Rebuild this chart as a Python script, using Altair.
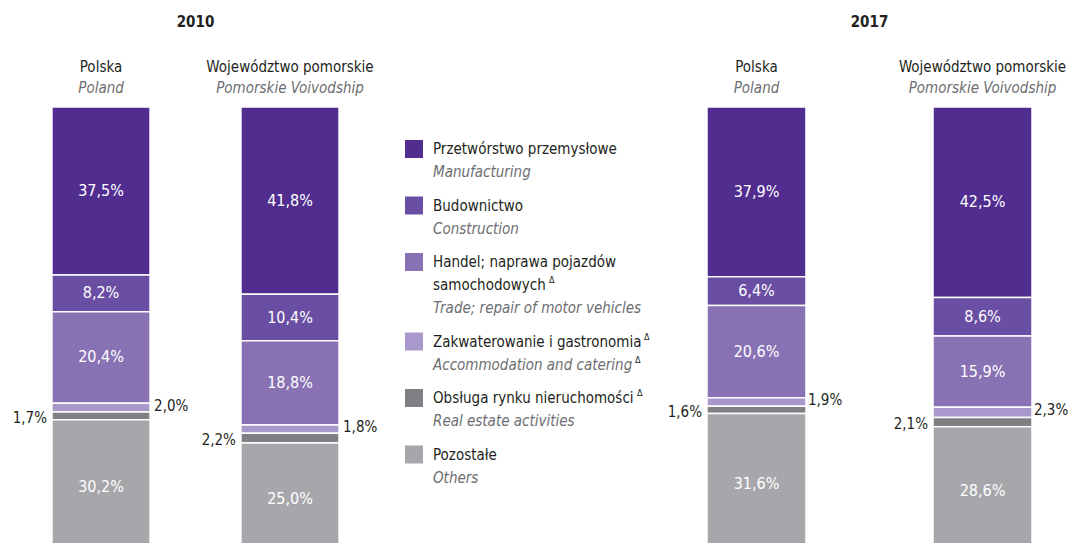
import altair as alt
import pandas as pd

# ---------------- data ----------------
years = ["2010", "2017"]
regions = ["Polska", "Województwo pomorskie"]
regions_en = ["Poland", "Pomorskie Voivodship"]
categories_pl = [
    "Przetwórstwo przemysłowe",
    "Budownictwo",
    "Handel; naprawa pojazdów samochodowych",
    "Zakwaterowanie i gastronomia",
    "Obsługa rynku nieruchomości",
    "Pozostałe",
]
categories_en = [
    "Manufacturing",
    "Construction",
    "Trade; repair of motor vehicles",
    "Accommodation and catering",
    "Real estate activities",
    "Others",
]
# legend text lines (Polish wrapped as in the original)
legend_pl_lines = [
    ["Przetwórstwo przemysłowe"],
    ["Budownictwo"],
    ["Handel; naprawa pojazdów", "samochodowych"],
    ["Zakwaterowanie i gastronomia"],
    ["Obsługa rynku nieruchomości"],
    ["Pozostałe"],
]

poland_2010 = [37.5, 8.2, 20.4, 2.0, 1.7, 30.2]
pomorskie_2010 = [41.8, 10.4, 18.8, 1.8, 2.2, 25.0]
poland_2017 = [37.9, 6.4, 20.6, 1.9, 1.6, 31.6]
pomorskie_2017 = [42.5, 8.6, 15.9, 2.3, 2.1, 28.6]

# ---------------- style ----------------
colors = ["#512d8f", "#6a4ea3", "#8872b4", "#a998cc", "#808084", "#a7a7ab"]
FONT = "DejaVu Sans Condensed, sans-serif"
DARK = "#231f20"
GREY_TXT = "#6d6e71"
H = 535
Y_RANGE = [547, 99]
FS = 15
FS_BAR = 16


def fmt(v):
    return f"{v:.1f}".replace(".", ",") + "%"


def panel(year, series, width, p_inner, p_outer, dx_out):
    rows = []
    for r, vals in zip(regions, series):
        for i, v in enumerate(vals):
            rows.append({"region": r, "cat": categories_pl[i], "idx": i,
                         "value": v, "label": fmt(v)})
    df = pd.DataFrame(rows)
    xscale = alt.Scale(domain=regions, paddingInner=p_inner, paddingOuter=p_outer)
    yscale = alt.Scale(domain=[0, 100], range=Y_RANGE)
    base = alt.Chart(df).transform_stack(
        stack="value", groupby=["region"], as_=["y0", "y1"],
        sort=[alt.SortField("idx", order="descending")],
    ).transform_calculate(ymid="(datum.y0 + datum.y1) / 2")

    bars = base.mark_bar(stroke="white", strokeWidth=1.5, clip=True).encode(
        x=alt.X("region:N", scale=xscale, axis=None),
        y=alt.Y("y1:Q", scale=yscale, axis=None),
        y2="y0:Q",
        color=alt.Color("cat:N", scale=alt.Scale(domain=categories_pl, range=colors), legend=None),
    )
    inside = base.transform_filter("datum.idx != 3 && datum.idx != 4").mark_text(
        color="white", fontSize=FS_BAR, font=FONT, baseline="middle"
    ).encode(
        x=alt.X("region:N", scale=xscale, axis=None),
        y=alt.Y("ymid:Q", scale=yscale, axis=None),
        text="label:N",
    )
    right = base.transform_filter("datum.idx == 3").mark_text(
        color=DARK, fontSize=FS, font=FONT, align="left", baseline="middle", dx=dx_out, dy=-2
    ).encode(
        x=alt.X("region:N", scale=xscale, axis=None, bandPosition=1),
        y=alt.Y("ymid:Q", scale=yscale, axis=None),
        text="label:N",
    )
    left = base.transform_filter("datum.idx == 4").mark_text(
        color=DARK, fontSize=FS, font=FONT, align="right", baseline="middle", dx=-5, dy=2
    ).encode(
        x=alt.X("region:N", scale=xscale, axis=None, bandPosition=0),
        y=alt.Y("ymid:Q", scale=yscale, axis=None),
        text="label:N",
    )
    hdf = pd.DataFrame({"region": regions, "en": regions_en})
    h1 = alt.Chart(hdf).mark_text(color=DARK, fontSize=FS, font=FONT, baseline="middle").encode(
        x=alt.X("region:N", scale=xscale, axis=None), y=alt.value(59), text="region:N")
    h2 = alt.Chart(hdf).mark_text(color=GREY_TXT, fontSize=FS, font=FONT, fontStyle="italic",
                                  baseline="middle").encode(
        x=alt.X("region:N", scale=xscale, axis=None), y=alt.value(80), text="en:N")
    yr = alt.Chart(pd.DataFrame({"year": [year]})).mark_text(
        color=DARK, fontSize=15, font=FONT, fontWeight="bold", baseline="middle"
    ).encode(x=alt.value(width / 2), y=alt.value(14), text="year:N")
    return alt.layer(bars, inside, right, left, h1, h2, yr).properties(width=width, height=H)


left_panel = panel("2010", [poland_2010, pomorskie_2010], 375, 0.481, 0.2326, 4)
right_panel = panel("2017", [poland_2017, pomorskie_2017], 399, 0.562, 0.1637, 2)

# ---------------- legend panel ----------------
LINE = 23
GAP = 33.5
TX = 50
y = 141
sq_rows, txt_rows = [], []
delta_after = {  # superscript Δ offsets (px from text start) for lines that carry it
    ("pl", 2, 1): 116,
    ("pl", 3, 0): 211,
    ("en", 3, 0): 202,
    ("pl", 4, 0): 204,
}
delta_rows = []
for i, cat in enumerate(categories_pl):
    sq_rows.append({"cat": cat, "y": y})
    for j, line in enumerate(legend_pl_lines[i]):
        txt_rows.append({"text": line, "y": y, "kind": "pl"})
        if ("pl", i, j) in delta_after:
            delta_rows.append({"y": y - 5, "dx": delta_after[("pl", i, j)]})
        y += LINE
    txt_rows.append({"text": categories_en[i], "y": y, "kind": "en"})
    if ("en", i, 0) in delta_after:
        delta_rows.append({"y": y - 5, "dx": delta_after[("en", i, 0)]})
    y += GAP

sq = alt.Chart(pd.DataFrame(sq_rows)).mark_square(size=324, opacity=1).encode(
    x=alt.value(31),
    y=alt.Y("y:Q", scale=None),
    color=alt.Color("cat:N", scale=alt.Scale(domain=categories_pl, range=colors), legend=None),
)
tdf = pd.DataFrame(txt_rows)
t_pl = alt.Chart(tdf).transform_filter("datum.kind == 'pl'").mark_text(
    align="left", baseline="middle", fontSize=FS, font=FONT, color=DARK
).encode(x=alt.value(TX), y=alt.Y("y:Q", scale=None), text="text:N")
t_en = alt.Chart(tdf).transform_filter("datum.kind == 'en'").mark_text(
    align="left", baseline="middle", fontSize=FS, font=FONT, color=GREY_TXT, fontStyle="italic"
).encode(x=alt.value(TX), y=alt.Y("y:Q", scale=None), text="text:N")
ddf = pd.DataFrame(delta_rows)
ddf["x"] = TX + ddf["dx"]
ddf["t"] = "Δ"
deltas = alt.Chart(ddf).mark_text(align="left", baseline="middle", fontSize=9, font=FONT,
                                   color=DARK).encode(
    x=alt.X("x:Q", scale=None), y=alt.Y("y:Q", scale=None), text="t:N")

legend_panel = alt.layer(sq, t_pl, t_en, deltas).properties(width=287, height=H)

chart = alt.hconcat(
    left_panel, legend_panel, right_panel, spacing=0, bounds="flush", padding=0
).configure_view(stroke=None)

chart.save("out.html", embed_options={"renderer": "svg", "actions": False})
